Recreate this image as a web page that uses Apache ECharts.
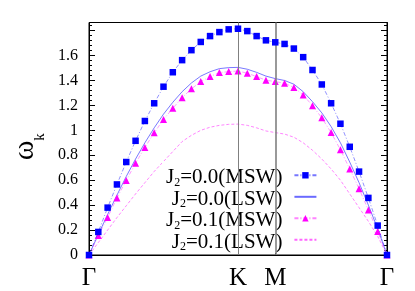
<!DOCTYPE html>
<html><head><meta charset="utf-8">
<script src="https://cdn.jsdelivr.net/npm/echarts@6/dist/echarts.min.js"></script>
<style>html,body{margin:0;padding:0;background:#fff}#c{width:415px;height:291px}</style>
</head><body><div id="c"></div>
<script>
// path coordinate along Γ-K-M-Γ
const kPath = [0,0.25,0.5,0.75,1,1.25,1.5,1.75,2,2.25,2.5,2.75,3,3.25,3.5,3.75,4,4.25,4.5,4.75,5,5.25,5.5,5.75,6,6.25,6.5,6.75,7,7.25,7.5,7.75,8];
const msw00 = [0,0.185,0.38,0.566,0.746,0.916,1.075,1.217,1.35,1.466,1.563,1.643,1.709,1.756,1.788,1.81,1.815,1.796,1.756,1.722,1.706,1.693,1.656,1.587,1.484,1.368,1.217,1.053,0.868,0.669,0.458,0.236,0];
const lsw00 = [0,0.165,0.325,0.48,0.63,0.77,0.90,1.02,1.13,1.225,1.31,1.38,1.435,1.47,1.495,1.503,1.505,1.49,1.465,1.435,1.415,1.40,1.37,1.31,1.23,1.14,1.03,0.9,0.745,0.58,0.40,0.21,0];
const msw01 = [0,0.156,0.30,0.458,0.598,0.736,0.863,0.98,1.087,1.177,1.262,1.333,1.391,1.431,1.463,1.471,1.476,1.458,1.431,1.402,1.391,1.378,1.344,1.283,1.198,1.10,0.982,0.844,0.69,0.532,0.36,0.188,0];
const lsw01 = [0,0.10,0.20,0.30,0.395,0.49,0.58,0.67,0.75,0.83,0.91,0.96,1.0,1.025,1.04,1.048,1.05,1.04,1.02,0.995,0.982,0.97,0.945,0.90,0.84,0.77,0.69,0.60,0.49,0.38,0.27,0.15,0];
const seriesNames = ['J2=0.0(MSW)','J2=0.0(LSW)','J2=0.1(MSW)','J2=0.1(LSW)'];
const symPos = [0,4,5,8];
const symLabels = ['Γ','K','M','Γ'];
const vLines = [4,5];
const yTicks = [0,0.2,0.4,0.6,0.8,1,1.2,1.4,1.6,1.8];

const SERIF = 'Liberation Serif';
const pairs = (ys) => kPath.map((x,i)=>[x,ys[i]]);
const chart = echarts.init(document.getElementById('c'), null, {renderer:'canvas'});
const yAxisBase = {
  type:'value', min:0, max:1.865, interval:0.2,
  axisLine:{show:true, lineStyle:{color:'#000', width:1}},
  axisTick:{show:true, inside:true, length:6, lineStyle:{color:'#000'}},
  minorTick:{show:true, splitNumber:5, length:3, lineStyle:{color:'#000'}},
  splitLine:{show:false}
};
chart.setOption({
  animation:false,
  backgroundColor:'#fff',
  grid:{left:89, right:28, top:22.5, bottom:33.5, show:true, borderColor:'#000', borderWidth:1},
  xAxis:{
    type:'value', min:0, max:8,
    axisLine:{show:true, lineStyle:{color:'#000'}},
    axisTick:{show:true, inside:true, length:8, customValues:vLines, lineStyle:{color:'#000'}},
    axisLabel:{show:true, customValues:symPos, margin:11, color:'#000', fontFamily:SERIF, fontSize:25,
      formatter:(v)=>symLabels[symPos.indexOf(v)]},
    splitLine:{show:false}
  },
  yAxis:[
    Object.assign({}, yAxisBase, {position:'left',
      name:'{w|ω}{k|k}', nameLocation:'middle', nameRotate:90, nameGap:35,
      nameTextStyle:{color:'#000', fontFamily:SERIF,
        rich:{w:{fontFamily:SERIF, fontSize:30, lineHeight:30, verticalAlign:'top', color:'#000'},
              k:{fontFamily:SERIF, fontSize:15, lineHeight:30, verticalAlign:'top', padding:[22,16,0,0], color:'#000'}}},
      axisLabel:{show:true, showMaxLabel:false, margin:11, color:'#000', fontFamily:SERIF, fontSize:16,
        customValues:yTicks, formatter:(v)=>String(+v.toFixed(1))}}),
    Object.assign({}, yAxisBase, {position:'right', axisLabel:{show:false}})
  ],
  legend:{
    show:true, orient:'vertical', left:162, top:161, align:'right',
    itemWidth:22, itemHeight:8, itemGap:0, padding:[6,2,0,4],
    backgroundColor:'#fff', selectedMode:false,
    data:[
      {name:seriesNames[0]},
      {name:seriesNames[1], itemStyle:{opacity:0}},
      {name:seriesNames[2]},
      {name:seriesNames[3], itemStyle:{opacity:0}}
    ],
    formatter:(n)=>'{n|'+n.slice(0,1)+'}{s|'+n.slice(1,2)+'}{n|'+n.slice(2)+'}{g| }',
    textStyle:{color:'#000', fontFamily:SERIF, fontSize:21,
      rich:{n:{fontFamily:SERIF, fontSize:21, lineHeight:16.6, verticalAlign:'top', color:'#000'},
            s:{fontFamily:SERIF, fontSize:12, lineHeight:16.6, verticalAlign:'top', padding:[9.5,0,0,0], color:'#000'},
            g:{fontSize:8, width:7, lineHeight:16.6, verticalAlign:'top'}}}
  },
  series:[
    {name:seriesNames[0], type:'line', data:pairs(msw00), symbol:'rect', symbolSize:6.5, z:5,
      itemStyle:{color:'#0000ff'}, lineStyle:{color:'rgba(60,60,255,0.7)', width:0.8, type:[4,2,1,2]},
      markLine:{silent:true, symbol:'none', label:{show:false},
        data:[{xAxis:vLines[0], lineStyle:{color:'#808080', width:1, type:'solid'}},
              {xAxis:vLines[1], lineStyle:{color:'#808080', width:1.6, type:'solid'}}]}},
    {name:seriesNames[1], type:'line', data:pairs(lsw00), showSymbol:false, z:3,
      itemStyle:{color:'#6060ff'}, lineStyle:{color:'#6a6aff', width:0.9, type:'solid'}},
    {name:seriesNames[2], type:'line', data:pairs(msw01), symbol:'triangle', symbolSize:7, z:4,
      itemStyle:{color:'#ff00ff'}, lineStyle:{color:'rgba(255,80,255,0.7)', width:0.8, type:[4,2,1,2]}},
    {name:seriesNames[3], type:'line', data:pairs(lsw01), showSymbol:false, z:3,
      itemStyle:{color:'#ff66ff'}, lineStyle:{color:'#ff66ff', width:0.8, type:[3,2]}}
  ]
});
</script></body></html>
